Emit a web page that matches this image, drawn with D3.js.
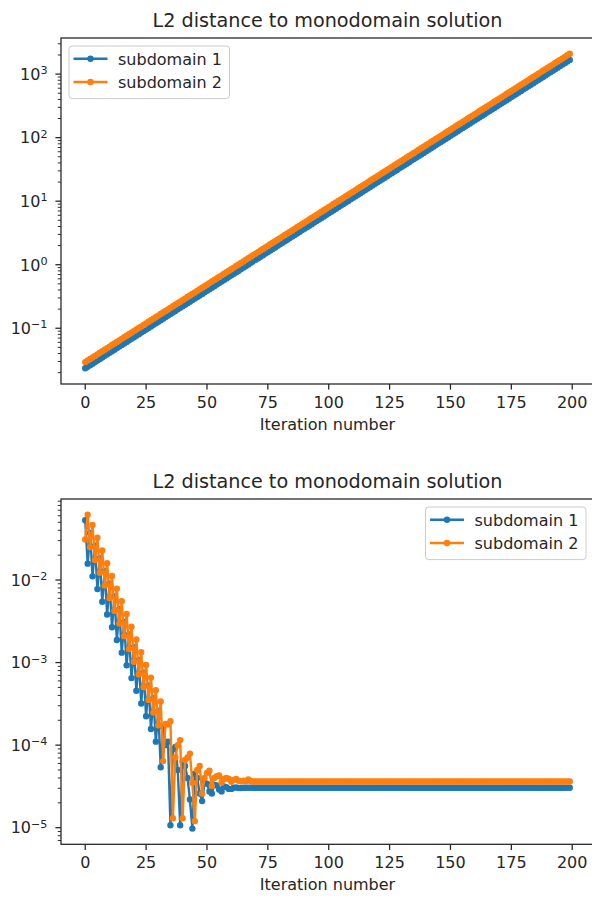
<!DOCTYPE html>
<html>
<head>
<meta charset="utf-8">
<script src="https://cdn.jsdelivr.net/npm/d3@7"></script>
<style>
  body { margin: 0; background: #fff; }
  svg text { font-family: "DejaVu Sans", sans-serif; fill: #262626; }
</style>
</head>
<body>
<div id="chart"></div>
<script>
// series labels / colours (matplotlib tab10)
const seriesNames = ['subdomain 1', 'subdomain 2'];
const seriesColors = ['#1f77b4', '#ff7f0e'];
const xTicks = [0, 25, 50, 75, 100, 125, 150, 175, 200];
const titleText = 'L2 distance to monodomain solution';
const xLabelText = 'Iteration number';

// top panel: diverging run, L2 distance per iteration
const growthSub1 = [
  0.02344, 0.02479, 0.02623, 0.02774, 0.02935, 0.03104, 0.03284, 0.03473, 0.03674, 0.03887,
  0.04111, 0.04349, 0.04600, 0.04866, 0.05147, 0.05445, 0.05759, 0.06092, 0.06444, 0.06817,
  0.07211, 0.07628, 0.08069, 0.08535, 0.09028, 0.09550, 0.1010, 0.1069, 0.1130, 0.1196,
  0.1265, 0.1338, 0.1415, 0.1497, 0.1583, 0.1675, 0.1772, 0.1874, 0.1982, 0.2097,
  0.2216, 0.2344, 0.2479, 0.2623, 0.2774, 0.2935, 0.3104, 0.3284, 0.3473, 0.3674,
  0.3887, 0.4111, 0.4349, 0.4600, 0.4866, 0.5147, 0.5445, 0.5759, 0.6092, 0.6444,
  0.6817, 0.7211, 0.7628, 0.8069, 0.8535, 0.9028, 0.9550, 1.010, 1.069, 1.130,
  1.196, 1.265, 1.338, 1.415, 1.497, 1.583, 1.675, 1.772, 1.874, 1.982,
  2.097, 2.216, 2.344, 2.479, 2.623, 2.774, 2.935, 3.104, 3.284, 3.473,
  3.674, 3.887, 4.111, 4.349, 4.600, 4.866, 5.147, 5.445, 5.759, 6.092,
  6.444, 6.817, 7.211, 7.628, 8.069, 8.535, 9.028, 9.550, 10.10, 10.69,
  11.30, 11.96, 12.65, 13.38, 14.15, 14.97, 15.83, 16.75, 17.72, 18.74,
  19.82, 20.97, 22.16, 23.44, 24.79, 26.23, 27.74, 29.35, 31.04, 32.84,
  34.73, 36.74, 38.87, 41.11, 43.49, 46.00, 48.66, 51.47, 54.45, 57.59,
  60.92, 64.44, 68.17, 72.11, 76.28, 80.69, 85.35, 90.28, 95.50, 101.0,
  106.9, 113.0, 119.6, 126.5, 133.8, 141.5, 149.7, 158.3, 167.5, 177.2,
  187.4, 198.2, 209.7, 221.6, 234.4, 247.9, 262.3, 277.4, 293.5, 310.4,
  328.4, 347.3, 367.4, 388.7, 411.1, 434.9, 460.0, 486.6, 514.7, 544.5,
  575.9, 609.2, 644.4, 681.7, 721.1, 762.8, 806.9, 853.5, 902.8, 955.0,
  1010, 1069, 1130, 1196, 1265, 1338, 1415, 1497, 1583, 1675
];
const growthSub2 = [
  0.02930, 0.03099, 0.03278, 0.03468, 0.03668, 0.03880, 0.04105, 0.04342, 0.04593, 0.04858,
  0.05139, 0.05436, 0.05750, 0.06082, 0.06434, 0.06806, 0.07199, 0.07615, 0.08055, 0.08521,
  0.09014, 0.09535, 0.1009, 0.1067, 0.1128, 0.1194, 0.1263, 0.1336, 0.1413, 0.1495,
  0.1581, 0.1672, 0.1769, 0.1871, 0.1979, 0.2094, 0.2215, 0.2343, 0.2478, 0.2621,
  0.2770, 0.2930, 0.3099, 0.3278, 0.3468, 0.3668, 0.3880, 0.4105, 0.4342, 0.4593,
  0.4858, 0.5139, 0.5436, 0.5750, 0.6082, 0.6434, 0.6806, 0.7199, 0.7615, 0.8055,
  0.8521, 0.9014, 0.9535, 1.009, 1.067, 1.128, 1.194, 1.263, 1.336, 1.413,
  1.495, 1.581, 1.672, 1.769, 1.871, 1.979, 2.094, 2.215, 2.343, 2.478,
  2.621, 2.770, 2.930, 3.099, 3.278, 3.468, 3.668, 3.880, 4.105, 4.342,
  4.593, 4.858, 5.139, 5.436, 5.750, 6.082, 6.434, 6.806, 7.199, 7.615,
  8.055, 8.521, 9.014, 9.535, 10.09, 10.67, 11.28, 11.94, 12.63, 13.36,
  14.13, 14.95, 15.81, 16.72, 17.69, 18.71, 19.79, 20.94, 22.15, 23.43,
  24.78, 26.21, 27.70, 29.30, 30.99, 32.78, 34.68, 36.68, 38.80, 41.05,
  43.42, 45.93, 48.58, 51.39, 54.36, 57.50, 60.82, 64.34, 68.06, 71.99,
  76.15, 80.55, 85.21, 90.14, 95.35, 100.9, 106.7, 112.8, 119.4, 126.3,
  133.6, 141.3, 149.5, 158.1, 167.2, 176.9, 187.1, 197.9, 209.4, 221.5,
  234.3, 247.8, 262.1, 277.0, 293.0, 309.9, 327.8, 346.8, 366.8, 388.0,
  410.5, 434.2, 459.3, 485.8, 513.9, 543.6, 575.0, 608.2, 643.4, 680.6,
  719.9, 761.5, 805.5, 852.1, 901.4, 953.5, 1009, 1067, 1128, 1194,
  1263, 1336, 1413, 1495, 1581, 1672, 1769, 1871, 1979, 2094
];

// bottom panel: converging run
const decaySub1 = [
  0.0531, 0.01578, 0.03724, 0.01107, 0.02612, 0.007762, 0.01832, 0.005445, 0.01285, 0.003819,
  0.009016, 0.002679, 0.006324, 0.001879, 0.004436, 0.001318, 0.003112, 0.0009247, 0.002183, 0.0006486,
  0.001531, 0.000455, 0.001074, 0.0003192, 0.0007534, 0.0002239, 0.0005284, 0.000157, 0.0003707, 0.0001102,
  2.6e-4, 5.4e-5, 1.66e-4, 1.0e-4, 1.1e-4, 1.07e-5, 8.9e-5, 9.5e-5, 5.0e-5, 1.07e-5,
  6.3e-5, 5.6e-5, 4.0e-5, 2.2e-5, 9.75e-6, 4.5e-5, 4.0e-5, 2.6e-5, 2.1e-5, 3.5e-5,
  3.4e-5, 2.75e-5, 2.6e-5, 3.3e-5, 3.25e-5, 2.9e-5, 2.75e-5, 3.15e-5, 3.1e-5, 2.95e-5,
  2.95e-5, 3.05e-5, 3.08e-5, 3.02e-5, 3.02e-5, 3.05e-5, 3.05e-5, 3.05e-5, 3.05e-5, 3.05e-5,
  3.05e-5, 3.05e-5, 3.05e-5, 3.05e-5, 3.05e-5, 3.05e-5, 3.05e-5, 3.05e-5, 3.05e-5, 3.05e-5,
  3.05e-5, 3.05e-5, 3.05e-5, 3.05e-5, 3.05e-5, 3.05e-5, 3.05e-5, 3.05e-5, 3.05e-5, 3.05e-5,
  3.05e-5, 3.05e-5, 3.05e-5, 3.05e-5, 3.05e-5, 3.05e-5, 3.05e-5, 3.05e-5, 3.05e-5, 3.05e-5,
  3.05e-5, 3.05e-5, 3.05e-5, 3.05e-5, 3.05e-5, 3.05e-5, 3.05e-5, 3.05e-5, 3.05e-5, 3.05e-5,
  3.05e-5, 3.05e-5, 3.05e-5, 3.05e-5, 3.05e-5, 3.05e-5, 3.05e-5, 3.05e-5, 3.05e-5, 3.05e-5,
  3.05e-5, 3.05e-5, 3.05e-5, 3.05e-5, 3.05e-5, 3.05e-5, 3.05e-5, 3.05e-5, 3.05e-5, 3.05e-5,
  3.05e-5, 3.05e-5, 3.05e-5, 3.05e-5, 3.05e-5, 3.05e-5, 3.05e-5, 3.05e-5, 3.05e-5, 3.05e-5,
  3.05e-5, 3.05e-5, 3.05e-5, 3.05e-5, 3.05e-5, 3.05e-5, 3.05e-5, 3.05e-5, 3.05e-5, 3.05e-5,
  3.05e-5, 3.05e-5, 3.05e-5, 3.05e-5, 3.05e-5, 3.05e-5, 3.05e-5, 3.05e-5, 3.05e-5, 3.05e-5,
  3.05e-5, 3.05e-5, 3.05e-5, 3.05e-5, 3.05e-5, 3.05e-5, 3.05e-5, 3.05e-5, 3.05e-5, 3.05e-5,
  3.05e-5, 3.05e-5, 3.05e-5, 3.05e-5, 3.05e-5, 3.05e-5, 3.05e-5, 3.05e-5, 3.05e-5, 3.05e-5,
  3.05e-5, 3.05e-5, 3.05e-5, 3.05e-5, 3.05e-5, 3.05e-5, 3.05e-5, 3.05e-5, 3.05e-5, 3.05e-5,
  3.05e-5, 3.05e-5, 3.05e-5, 3.05e-5, 3.05e-5, 3.05e-5, 3.05e-5, 3.05e-5, 3.05e-5, 3.05e-5
];
const decaySub2 = [
  0.031, 0.0618, 0.02489, 0.04634, 0.01746, 0.03251, 0.01225, 0.0228, 0.00859, 0.016,
  0.006026, 0.01122, 0.004227, 0.00787, 0.002965, 0.005521, 0.00208, 0.003873, 0.001459, 0.002716,
  0.001023, 0.001905, 0.0007178, 0.001337, 0.0005035, 0.0009376, 0.0003532, 0.0006577, 0.0002477, 0.0004613,
  1.738e-4, 3.388e-4, 6.4e-5, 1.8e-4, 1.78e-4, 1.95e-4, 1.3e-5, 7.1e-5, 1.0e-4, 1.15e-4,
  1.3e-5, 6.6e-5, 7.1e-5, 7.9e-5, 3.5e-5, 1.2e-5, 5.0e-5, 5.6e-5, 2.6e-5, 4.0e-5,
  4.6e-5, 4.9e-5, 3.2e-5, 4.0e-5, 4.2e-5, 4.3e-5, 3.5e-5, 3.9e-5, 4.0e-5, 3.9e-5,
  3.6e-5, 3.8e-5, 3.9e-5, 3.7e-5, 3.65e-5, 3.7e-5, 3.65e-5, 3.85e-5, 3.65e-5, 3.63e-5,
  3.63e-5, 3.63e-5, 3.63e-5, 3.63e-5, 3.63e-5, 3.63e-5, 3.63e-5, 3.63e-5, 3.63e-5, 3.63e-5,
  3.63e-5, 3.63e-5, 3.63e-5, 3.63e-5, 3.63e-5, 3.63e-5, 3.63e-5, 3.63e-5, 3.63e-5, 3.63e-5,
  3.63e-5, 3.63e-5, 3.63e-5, 3.63e-5, 3.63e-5, 3.63e-5, 3.63e-5, 3.63e-5, 3.63e-5, 3.63e-5,
  3.63e-5, 3.63e-5, 3.63e-5, 3.63e-5, 3.63e-5, 3.63e-5, 3.63e-5, 3.63e-5, 3.63e-5, 3.63e-5,
  3.63e-5, 3.63e-5, 3.63e-5, 3.63e-5, 3.63e-5, 3.63e-5, 3.63e-5, 3.63e-5, 3.63e-5, 3.63e-5,
  3.63e-5, 3.63e-5, 3.63e-5, 3.63e-5, 3.63e-5, 3.63e-5, 3.63e-5, 3.63e-5, 3.63e-5, 3.63e-5,
  3.63e-5, 3.63e-5, 3.63e-5, 3.63e-5, 3.63e-5, 3.63e-5, 3.63e-5, 3.63e-5, 3.63e-5, 3.63e-5,
  3.63e-5, 3.63e-5, 3.63e-5, 3.63e-5, 3.63e-5, 3.63e-5, 3.63e-5, 3.63e-5, 3.63e-5, 3.63e-5,
  3.63e-5, 3.63e-5, 3.63e-5, 3.63e-5, 3.63e-5, 3.63e-5, 3.63e-5, 3.63e-5, 3.63e-5, 3.63e-5,
  3.63e-5, 3.63e-5, 3.63e-5, 3.63e-5, 3.63e-5, 3.63e-5, 3.63e-5, 3.63e-5, 3.63e-5, 3.63e-5,
  3.63e-5, 3.63e-5, 3.63e-5, 3.63e-5, 3.63e-5, 3.63e-5, 3.63e-5, 3.63e-5, 3.63e-5, 3.63e-5,
  3.63e-5, 3.63e-5, 3.63e-5, 3.63e-5, 3.63e-5, 3.63e-5, 3.63e-5, 3.63e-5, 3.63e-5, 3.63e-5,
  3.63e-5, 3.63e-5, 3.63e-5, 3.63e-5, 3.63e-5, 3.63e-5, 3.63e-5, 3.63e-5, 3.63e-5, 3.63e-5
];

const width = 592, height = 900;
const plotLeft = 61, plotRight = 594;

const svg = d3.select('#chart').append('svg')
  .attr('width', width)
  .attr('height', height);

// one log-y panel, matplotlib look
function drawPanel(cfg) {
  const n = cfg.series[0].length;
  const xPad = (n - 1) * 0.05;
  const x = d3.scaleLinear()
    .domain([-xPad, n - 1 + xPad])
    .range([plotLeft, plotRight]);

  const all = cfg.series.flat();
  const lo = Math.log10(d3.min(all));
  const hi = Math.log10(d3.max(all));
  const yPad = (hi - lo) * 0.05;
  const y = d3.scaleLog()
    .domain([Math.pow(10, lo - yPad), Math.pow(10, hi + yPad)])
    .range([cfg.bottom, cfg.top]);

  const g = svg.append('g');

  // lines + markers
  const line = d3.line()
    .x((d, i) => x(i))
    .y(d => y(d));

  cfg.series.forEach((values, s) => {
    g.append('path')
      .datum(values)
      .attr('fill', 'none')
      .attr('stroke', seriesColors[s])
      .attr('stroke-width', 2.4)
      .attr('stroke-linejoin', 'round')
      .attr('stroke-linecap', 'square')
      .attr('d', line);

    g.append('g').selectAll('circle')
      .data(values)
      .enter()
      .append('circle')
      .attr('cx', (d, i) => x(i))
      .attr('cy', d => y(d))
      .attr('r', 2.4)
      .attr('fill', seriesColors[s])
      .attr('stroke', seriesColors[s])
      .attr('stroke-width', 1.6);
  });

  // spines
  g.append('rect')
    .attr('x', plotLeft)
    .attr('y', cfg.top)
    .attr('width', plotRight - plotLeft)
    .attr('height', cfg.bottom - cfg.top)
    .attr('fill', 'none')
    .attr('stroke', '#262626')
    .attr('stroke-width', 1.28);

  // x ticks
  const xAxis = g.append('g');
  xTicks.forEach(t => {
    xAxis.append('line')
      .attr('x1', x(t)).attr('x2', x(t))
      .attr('y1', cfg.bottom).attr('y2', cfg.bottom + 5.6)
      .attr('stroke', '#262626')
      .attr('stroke-width', 1.28);
    xAxis.append('text')
      .attr('x', x(t))
      .attr('y', cfg.bottom + 23.8)
      .attr('text-anchor', 'middle')
      .attr('font-size', 16)
      .text(t);
  });

  xAxis.append('text')
    .attr('x', (plotLeft + plotRight) / 2)
    .attr('y', cfg.bottom + 46)
    .attr('text-anchor', 'middle')
    .attr('font-size', 16)
    .text(xLabelText);

  // y ticks (log): majors at decades, minors at 2..9
  const [d0, d1] = y.domain();
  const e0 = Math.floor(Math.log10(d0)), e1 = Math.ceil(Math.log10(d1));
  const yAxis = g.append('g');
  for (let e = e0; e <= e1; e++) {
    for (let k = 1; k <= 9; k++) {
      const v = k * Math.pow(10, e);
      if (v < d0 || v > d1) continue;
      const major = k === 1;
      yAxis.append('line')
        .attr('x1', plotLeft - (major ? 5.6 : 3.2)).attr('x2', plotLeft)
        .attr('y1', y(v)).attr('y2', y(v))
        .attr('stroke', '#262626')
        .attr('stroke-width', major ? 1.28 : 0.96);
      if (major) {
        const label = yAxis.append('text')
          .attr('x', plotLeft - 13.5)
          .attr('y', y(v) + 5.8)
          .attr('text-anchor', 'end')
          .attr('font-size', 16);
        label.append('tspan').text('10');
        label.append('tspan')
          .attr('dy', -5.8)
          .attr('font-size', 11.2)
          .text(e < 0 ? '\u2212' + (-e) : String(e));
      }
    }
  }

  // title
  g.append('text')
    .attr('x', (plotLeft + plotRight) / 2)
    .attr('y', cfg.top - 10.8)
    .attr('text-anchor', 'middle')
    .attr('font-size', 19.2)
    .text(titleText);

  // legend
  const boxW = 160.5, boxH = 52.6;
  const boxX = cfg.legend === 'left' ? plotLeft + 8 : plotRight - 8 - boxW;
  const boxY = cfg.top + 8;
  const legend = g.append('g').attr('transform', `translate(${boxX}, ${boxY})`);
  legend.append('rect')
    .attr('width', boxW)
    .attr('height', boxH)
    .attr('rx', 3.2)
    .attr('fill', '#fff')
    .attr('fill-opacity', 0.8)
    .attr('stroke', '#cccccc')
    .attr('stroke-width', 1);

  seriesNames.forEach((name, s) => {
    const row = legend.append('g').attr('transform', `translate(0, ${12.8 + s * 23.2})`);
    row.append('line')
      .attr('x1', 4.5).attr('x2', 38.5)
      .attr('stroke', seriesColors[s])
      .attr('stroke-width', 2.4);
    row.append('circle')
      .attr('cx', 21.5)
      .attr('r', 2.4)
      .attr('fill', seriesColors[s])
      .attr('stroke', seriesColors[s])
      .attr('stroke-width', 1.6);
    row.append('text')
      .attr('x', 49)
      .attr('y', 6)
      .attr('font-size', 16)
      .text(name);
  });
}

drawPanel({ top: 38, bottom: 384, series: [growthSub1, growthSub2], legend: 'left' });
drawPanel({ top: 499, bottom: 844.3, series: [decaySub1, decaySub2], legend: 'right' });
</script>
</body>
</html>
